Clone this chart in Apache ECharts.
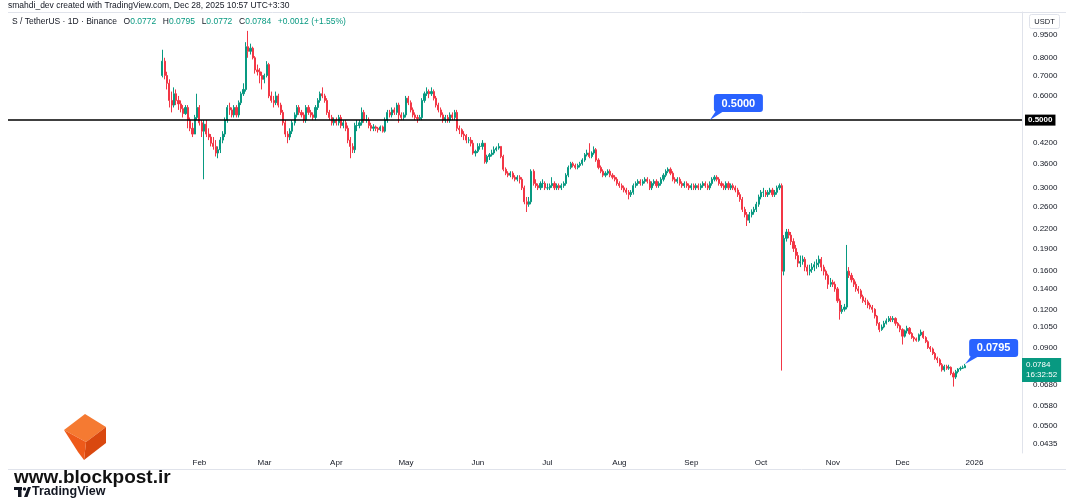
<!DOCTYPE html>
<html>
<head>
<meta charset="utf-8">
<script src="https://cdn.jsdelivr.net/npm/echarts@6/dist/echarts.min.js"></script>
<style>
html,body{margin:0;padding:0;background:#fff;}
#chart{width:1066px;height:500px;}
</style>
</head>
<body>
<div id="chart"></div>
<script>
// ---------------- DATA ----------------
const symbolTitle = 'S / TetherUS · 1D · Binance';
const creditLine = 'smahdi_dev created with TradingView.com, Dec 28, 2025 10:57 UTC+3:30';
const firstDate = '2025-01-16';     // first daily candle
const countdown = '16:32:52';
const hLevel = 0.5;                  // horizontal line level
const hLevelAnchorDate = '2025-09-09';

const opens = [
 // Jan 16-31
 0.70,0.78,0.70,0.66,0.58,0.56,0.61,0.58,0.565,0.545,0.525,0.55,0.50,0.47,0.45,0.51,
 // Feb
 0.55,0.49,0.46,0.485,0.45,0.44,0.42,0.41,0.39,0.40,0.43,0.45,0.50,0.55,0.54,0.52,0.55,0.52,0.57,0.61,0.63,0.87,0.84,0.86,0.80,0.73,0.72,0.70,
 // Mar
 0.68,0.70,0.76,0.60,0.58,0.57,0.60,0.56,0.53,0.49,0.45,0.44,0.46,0.49,0.52,0.55,0.53,0.52,0.50,0.55,0.53,0.52,0.51,0.55,0.58,0.61,0.60,0.58,0.53,0.51,0.49,
 // Apr
 0.50,0.49,0.51,0.48,0.49,0.47,0.43,0.41,0.40,0.48,0.48,0.49,0.53,0.50,0.50,0.48,0.47,0.475,0.47,0.465,0.475,0.46,0.50,0.53,0.52,0.54,0.53,0.56,0.52,0.51,
 // May
 0.52,0.59,0.57,0.54,0.52,0.51,0.505,0.51,0.58,0.61,0.62,0.61,0.62,0.59,0.56,0.54,0.52,0.50,0.51,0.50,0.52,0.51,0.53,0.47,0.465,0.45,0.445,0.43,0.43,0.42,0.39,
 // Jun
 0.395,0.41,0.41,0.42,0.365,0.38,0.385,0.39,0.40,0.405,0.41,0.38,0.345,0.335,0.33,0.335,0.325,0.32,0.325,0.32,0.30,0.27,0.265,0.27,0.34,0.31,0.305,0.30,0.31,0.31,
 // Jul
 0.30,0.30,0.305,0.31,0.30,0.305,0.30,0.305,0.31,0.33,0.35,0.36,0.355,0.35,0.355,0.36,0.37,0.385,0.39,0.38,0.39,0.40,0.37,0.35,0.34,0.33,0.335,0.34,0.33,0.325,0.32,
 // Aug
 0.31,0.305,0.30,0.295,0.29,0.285,0.29,0.305,0.31,0.315,0.31,0.315,0.32,0.315,0.30,0.31,0.315,0.305,0.31,0.32,0.33,0.34,0.345,0.335,0.32,0.315,0.32,0.31,0.305,0.31,0.305,
 // Sep
 0.30,0.305,0.30,0.305,0.30,0.305,0.31,0.305,0.30,0.31,0.32,0.325,0.32,0.31,0.305,0.30,0.31,0.30,0.305,0.30,0.295,0.285,0.275,0.255,0.245,0.235,0.245,0.25,0.255,0.265,
 // Oct
 0.28,0.29,0.29,0.285,0.29,0.295,0.285,0.29,0.30,0.305,0.16,0.205,0.215,0.21,0.20,0.19,0.18,0.17,0.172,0.175,0.165,0.16,0.162,0.165,0.168,0.17,0.175,0.165,0.16,0.155,0.145,
 // Nov
 0.147,0.145,0.14,0.128,0.118,0.12,0.122,0.16,0.155,0.15,0.145,0.14,0.138,0.132,0.128,0.127,0.124,0.122,0.12,0.114,0.108,0.103,0.105,0.108,0.11,0.112,0.111,0.112,0.108,0.106,
 // Dec 1-28
 0.103,0.098,0.102,0.104,0.100,0.097,0.096,0.095,0.099,0.101,0.097,0.094,0.090,0.089,0.086,0.083,0.082,0.079,0.076,0.078,0.077,0.0775,0.074,0.072,0.075,0.0765,0.077,0.0772
];
const closes = [
 0.78,0.70,0.66,0.58,0.56,0.61,0.58,0.565,0.545,0.525,0.55,0.50,0.47,0.45,0.51,0.55,
 0.49,0.46,0.485,0.45,0.44,0.42,0.41,0.39,0.40,0.43,0.45,0.50,0.55,0.54,0.52,0.55,0.52,0.57,0.61,0.63,0.87,0.84,0.86,0.80,0.73,0.72,0.70,0.68,
 0.70,0.76,0.60,0.58,0.57,0.60,0.56,0.53,0.49,0.45,0.44,0.46,0.49,0.52,0.55,0.53,0.52,0.50,0.55,0.53,0.52,0.51,0.55,0.58,0.61,0.60,0.58,0.53,0.51,0.49,0.50,
 0.49,0.51,0.48,0.49,0.47,0.43,0.41,0.40,0.48,0.48,0.49,0.53,0.50,0.50,0.48,0.47,0.475,0.47,0.465,0.475,0.46,0.50,0.53,0.52,0.54,0.53,0.56,0.52,0.51,0.52,
 0.59,0.57,0.54,0.52,0.51,0.505,0.51,0.58,0.61,0.62,0.61,0.62,0.59,0.56,0.54,0.52,0.50,0.51,0.50,0.52,0.51,0.53,0.47,0.465,0.45,0.445,0.43,0.43,0.42,0.39,0.395,
 0.41,0.41,0.42,0.365,0.38,0.385,0.39,0.40,0.405,0.41,0.38,0.345,0.335,0.33,0.335,0.325,0.32,0.325,0.32,0.30,0.27,0.265,0.27,0.34,0.31,0.305,0.30,0.31,0.31,0.30,
 0.30,0.305,0.31,0.30,0.305,0.30,0.305,0.31,0.33,0.35,0.36,0.355,0.35,0.355,0.36,0.37,0.385,0.39,0.38,0.39,0.40,0.37,0.35,0.34,0.33,0.335,0.34,0.33,0.325,0.32,0.31,
 0.305,0.30,0.295,0.29,0.285,0.29,0.305,0.31,0.315,0.31,0.315,0.32,0.315,0.30,0.31,0.315,0.305,0.31,0.32,0.33,0.34,0.345,0.335,0.32,0.315,0.32,0.31,0.305,0.31,0.305,0.30,
 0.305,0.30,0.305,0.30,0.305,0.31,0.305,0.30,0.31,0.32,0.325,0.32,0.31,0.305,0.30,0.31,0.30,0.305,0.30,0.295,0.285,0.275,0.255,0.245,0.235,0.245,0.25,0.255,0.265,0.28,
 0.29,0.29,0.285,0.29,0.295,0.285,0.29,0.30,0.305,0.16,0.205,0.215,0.21,0.20,0.19,0.18,0.17,0.172,0.175,0.165,0.16,0.162,0.165,0.168,0.17,0.175,0.165,0.16,0.155,0.145,0.147,
 0.145,0.14,0.128,0.118,0.12,0.122,0.16,0.155,0.15,0.145,0.14,0.138,0.132,0.128,0.127,0.124,0.122,0.12,0.114,0.108,0.103,0.105,0.108,0.11,0.112,0.111,0.112,0.108,0.106,0.103,
 0.098,0.102,0.104,0.100,0.097,0.096,0.095,0.099,0.101,0.097,0.094,0.090,0.089,0.086,0.083,0.082,0.079,0.076,0.078,0.077,0.0775,0.074,0.072,0.075,0.0765,0.077,0.0772,0.0784
];
const highs = [
 0.85,0.80,0.72,0.68,0.62,0.64,0.63,0.60,0.58,0.56,0.56,0.56,0.51,0.49,0.52,0.61,
 0.56,0.50,0.50,0.50,0.47,0.45,0.44,0.43,0.41,0.44,0.46,0.51,0.56,0.57,0.55,0.56,0.56,0.58,0.62,0.66,0.90,0.98,0.89,0.87,0.81,0.76,0.74,0.72,
 0.71,0.78,0.77,0.62,0.60,0.62,0.61,0.57,0.54,0.50,0.46,0.47,0.50,0.53,0.56,0.56,0.54,0.53,0.56,0.56,0.54,0.53,0.56,0.59,0.62,0.64,0.61,0.59,0.54,0.52,0.51,
 0.51,0.52,0.52,0.50,0.50,0.48,0.44,0.42,0.49,0.50,0.50,0.55,0.54,0.52,0.51,0.49,0.485,0.48,0.475,0.48,0.48,0.51,0.54,0.54,0.55,0.55,0.57,0.57,0.53,0.53,
 0.60,0.60,0.58,0.55,0.53,0.52,0.52,0.59,0.62,0.64,0.63,0.64,0.63,0.60,0.57,0.55,0.53,0.52,0.52,0.53,0.53,0.54,0.54,0.48,0.47,0.46,0.45,0.44,0.44,0.43,0.40,
 0.42,0.42,0.43,0.42,0.385,0.39,0.40,0.41,0.41,0.42,0.41,0.385,0.35,0.34,0.34,0.34,0.33,0.33,0.33,0.325,0.305,0.28,0.28,0.345,0.345,0.32,0.31,0.315,0.32,0.315,
 0.31,0.31,0.325,0.315,0.31,0.31,0.31,0.315,0.335,0.355,0.365,0.365,0.36,0.36,0.365,0.375,0.39,0.40,0.42,0.395,0.41,0.405,0.375,0.355,0.345,0.34,0.345,0.345,0.335,0.33,0.325,
 0.315,0.31,0.305,0.30,0.295,0.295,0.31,0.315,0.32,0.32,0.32,0.325,0.325,0.32,0.315,0.32,0.32,0.315,0.325,0.335,0.345,0.35,0.35,0.34,0.325,0.325,0.325,0.315,0.315,0.315,0.31,
 0.31,0.31,0.31,0.31,0.31,0.315,0.315,0.31,0.315,0.325,0.33,0.33,0.325,0.315,0.31,0.315,0.315,0.31,0.31,0.305,0.30,0.29,0.28,0.26,0.25,0.25,0.255,0.26,0.27,0.285,
 0.295,0.30,0.295,0.295,0.30,0.30,0.295,0.305,0.31,0.31,0.21,0.22,0.22,0.215,0.205,0.195,0.185,0.18,0.18,0.178,0.168,0.168,0.17,0.172,0.175,0.18,0.178,0.168,0.162,0.157,0.152,
 0.15,0.148,0.142,0.13,0.124,0.125,0.195,0.165,0.158,0.152,0.148,0.143,0.14,0.134,0.131,0.129,0.126,0.124,0.121,0.115,0.109,0.107,0.11,0.112,0.114,0.114,0.114,0.113,0.109,0.107,
 0.104,0.103,0.106,0.105,0.101,0.098,0.097,0.100,0.103,0.102,0.098,0.095,0.091,0.090,0.087,0.084,0.083,0.080,0.079,0.079,0.079,0.078,0.075,0.076,0.077,0.078,0.0785,0.0795
];
const lows = [
 0.69,0.68,0.63,0.55,0.53,0.55,0.56,0.54,0.53,0.51,0.52,0.47,0.46,0.44,0.45,0.50,
 0.48,0.44,0.32,0.44,0.43,0.41,0.40,0.38,0.375,0.39,0.42,0.44,0.49,0.52,0.51,0.51,0.51,0.51,0.56,0.60,0.62,0.80,0.82,0.79,0.71,0.70,0.66,0.63,
 0.66,0.69,0.59,0.57,0.55,0.56,0.55,0.52,0.48,0.44,0.42,0.43,0.45,0.48,0.51,0.52,0.51,0.49,0.49,0.52,0.51,0.50,0.50,0.54,0.57,0.59,0.57,0.52,0.50,0.48,0.48,
 0.48,0.48,0.47,0.47,0.46,0.42,0.375,0.39,0.39,0.46,0.47,0.48,0.49,0.49,0.47,0.46,0.46,0.46,0.455,0.46,0.455,0.455,0.49,0.51,0.51,0.52,0.52,0.49,0.50,0.50,
 0.51,0.56,0.53,0.51,0.50,0.49,0.50,0.50,0.57,0.60,0.59,0.60,0.58,0.55,0.53,0.51,0.49,0.49,0.49,0.49,0.50,0.50,0.46,0.45,0.44,0.43,0.42,0.42,0.41,0.385,0.38,
 0.39,0.40,0.40,0.36,0.36,0.37,0.38,0.385,0.395,0.40,0.375,0.34,0.33,0.325,0.325,0.32,0.315,0.315,0.31,0.295,0.265,0.25,0.26,0.265,0.305,0.30,0.295,0.295,0.30,0.295,
 0.295,0.295,0.30,0.295,0.295,0.295,0.295,0.30,0.305,0.325,0.345,0.35,0.345,0.345,0.35,0.355,0.365,0.38,0.375,0.375,0.385,0.365,0.345,0.335,0.325,0.325,0.33,0.325,0.32,0.315,0.305,
 0.30,0.295,0.29,0.285,0.275,0.28,0.285,0.30,0.305,0.305,0.305,0.31,0.31,0.295,0.295,0.305,0.30,0.30,0.305,0.315,0.325,0.335,0.33,0.315,0.31,0.31,0.305,0.30,0.30,0.30,0.295,
 0.295,0.295,0.295,0.295,0.295,0.30,0.30,0.295,0.295,0.305,0.315,0.315,0.305,0.30,0.295,0.295,0.295,0.295,0.295,0.29,0.28,0.27,0.25,0.24,0.225,0.23,0.24,0.245,0.25,0.26,
 0.275,0.28,0.28,0.28,0.285,0.28,0.28,0.285,0.295,0.0756,0.155,0.20,0.205,0.195,0.185,0.175,0.165,0.165,0.168,0.16,0.155,0.155,0.158,0.16,0.163,0.165,0.16,0.155,0.15,0.14,0.142,
 0.142,0.137,0.126,0.111,0.116,0.118,0.12,0.152,0.147,0.142,0.137,0.135,0.13,0.126,0.124,0.121,0.12,0.117,0.112,0.106,0.101,0.102,0.104,0.107,0.109,0.109,0.109,0.106,0.104,0.101,
 0.092,0.097,0.100,0.099,0.096,0.094,0.094,0.094,0.098,0.096,0.093,0.089,0.087,0.085,0.082,0.080,0.078,0.075,0.075,0.076,0.076,0.073,0.067,0.071,0.074,0.0755,0.0765,0.0772
];
const yTicks = [0.95,0.80,0.70,0.60,0.42,0.36,0.30,0.26,0.22,0.19,0.16,0.14,0.12,0.105,0.09,0.068,0.058,0.05,0.0435];
const xTickDates = ['2025-02-01','2025-03-01','2025-04-01','2025-05-01','2025-06-01','2025-07-01','2025-08-01','2025-09-01','2025-10-01','2025-11-01','2025-12-01','2026-01-01'];
const xTickLabels = ['Feb','Mar','Apr','May','Jun','Jul','Aug','Sep','Oct','Nov','Dec','2026'];

// ---------------- BUILD ----------------
const padBefore = 66, padAfter = 24;
const N = closes.length;
const DAY = 86400000;
const t0 = Date.parse(firstDate + 'T00:00:00Z');
const dates = [];
const candles = [];
for (let i = -padBefore; i < N + padAfter; i++) {
  dates.push(new Date(t0 + i * DAY).toISOString().slice(0, 10));
  candles.push(i >= 0 && i < N ? [opens[i], closes[i], lows[i], highs[i]] : '-');
}
const lastIdx = N - 1;
const lastDate = dates[padBefore + lastIdx];
const lastO = opens[lastIdx], lastH = highs[lastIdx], lastL = lows[lastIdx], lastC = closes[lastIdx];
const prevC = closes[lastIdx - 1];
const chg = lastC - prevC;
const pct = chg / prevC * 100;

const UP = '#089981', DOWN = '#F23645', TXT = '#131722', BLUE = '#2962FF';
const FONT = '"Liberation Sans", Arial, sans-serif';

const chart = echarts.init(document.getElementById('chart'), null, {renderer: 'canvas'});
const option = {
  backgroundColor: '#ffffff',
  animation: false,
  textStyle: {fontFamily: FONT},
  grid: {left: 8, right: 44, top: 12, bottom: 47, containLabel: false},
  xAxis: {
    type: 'category', data: dates, boundaryGap: true,
    axisLine: {show: false}, axisTick: {show: false}, splitLine: {show: false},
    axisLabel: {
      interval: (idx, val) => xTickDates.indexOf(val) >= 0,
      formatter: (val) => xTickLabels[xTickDates.indexOf(val)],
      fontSize: 8, color: TXT, margin: 6, fontFamily: FONT
    }
  },
  yAxis: {
    type: 'log', logBase: 10, position: 'right', min: 0.0406, max: 1.13, scale: true,
    axisLine: {show: true, lineStyle: {color: '#E0E3EB', width: 1}},
    axisTick: {show: false}, splitLine: {show: false},
    axisLabel: {
      customValues: yTicks,
      formatter: (v) => Number(v).toFixed(4),
      fontSize: 8, color: TXT, margin: 11, fontFamily: FONT
    }
  },
  series: [{
    type: 'candlestick',
    data: candles,
    barWidth: '70%',
    itemStyle: {color: UP, color0: DOWN, borderColor: UP, borderColor0: DOWN, borderWidth: 1},
    markLine: {
      silent: true, animation: false, symbol: ['none', 'none'],
      data: [
        {yAxis: hLevel, lineStyle: {color: '#000', width: 1.6, type: 'solid'},
         label: {show: true, position: 'end', distance: 3, formatter: hLevel.toFixed(4),
                 backgroundColor: '#000', color: '#fff', fontSize: 8, fontWeight: 'bold',
                 padding: [2, 3, 1, 3], fontFamily: FONT}},
        {yAxis: lastC, lineStyle: {color: 'rgba(0,0,0,0)', width: 0},
         label: {show: true, position: 'end', distance: 0, offset: [0, 7],
                 formatter: lastC.toFixed(4) + '\n' + countdown,
                 backgroundColor: UP, color: '#fff', fontSize: 8, lineHeight: 10,
                 padding: [2, 4, 2, 4], fontFamily: FONT}}
      ]
    }
  }],
  graphic: []
};
chart.setOption(option);

// ---------------- ANNOTATIONS ----------------
function callout(date, value, text, dx, dy) {
  const p = chart.convertToPixel({gridIndex: 0}, [date, value]);
  const w = 49, h = 18;
  const bx = p[0] + dx, by = p[1] + dy;
  return [
    {type: 'polygon', shape: {points: [[p[0], p[1]], [bx + 2, by + h - 1], [bx + 10, by + h - 1]]},
     style: {fill: BLUE}, z: 100},
    {type: 'rect', shape: {x: bx, y: by, width: w, height: h, r: 3}, style: {fill: BLUE}, z: 101},
    {type: 'text', x: bx + w / 2, y: by + h / 2 + 0.5,
     style: {text: text, fill: '#fff', font: 'bold 11px ' + FONT, align: 'center', verticalAlign: 'middle'}, z: 102}
  ];
}

const graphics = [];
// header
graphics.push({type: 'text', left: 8, top: 1,
  style: {text: creditLine, fill: TXT, font: '8.5px ' + FONT}});
graphics.push({type: 'line', shape: {x1: 8, y1: 12.5, x2: 1066, y2: 12.5}, style: {stroke: '#E0E3EB', lineWidth: 1}});
graphics.push({type: 'line', shape: {x1: 8, y1: 469.5, x2: 1066, y2: 469.5}, style: {stroke: '#E0E3EB', lineWidth: 1}});
graphics.push({type: 'text', left: 12, top: 16,
  style: {
    rich: {
      b: {fill: TXT, font: '8.5px ' + FONT},
      g: {fill: UP, font: '8.5px ' + FONT}
    },
    text: '{b|' + symbolTitle + '}  {b|O}{g|' + lastO.toFixed(4) + '}  {b|H}{g|' + lastH.toFixed(4) +
          '}  {b|L}{g|' + lastL.toFixed(4) + '}  {b|C}{g|' + lastC.toFixed(4) + '}  {g|' +
          (chg >= 0 ? '+' : '') + chg.toFixed(4) + ' (' + (pct >= 0 ? '+' : '') + pct.toFixed(2) + '%)}'
  }});
// USDT box
graphics.push({type: 'rect', shape: {x: 1029.5, y: 14.5, width: 30, height: 14, r: 2},
  style: {fill: '#fff', stroke: '#E0E3EB', lineWidth: 1}});
graphics.push({type: 'text', x: 1044.5, y: 22,
  style: {text: 'USDT', fill: TXT, font: '7.5px ' + FONT, align: 'center', verticalAlign: 'middle'}});

// callouts
graphics.push(...callout(hLevelAnchorDate, hLevel, hLevel.toFixed(4), 4, -26));
graphics.push(...callout(lastDate, lastH, lastH.toFixed(4), 4, -25));

// watermark logos
graphics.push({type: 'polygon', shape: {points: [[64, 430], [85, 414], [106, 427], [86, 442]]}, style: {fill: '#F57A32'}});
graphics.push({type: 'polygon', shape: {points: [[86, 442], [106, 427], [106, 443], [84, 460]]}, style: {fill: '#D9480F'}});
graphics.push({type: 'polygon', shape: {points: [[64, 430], [86, 442], [84, 460], [78, 452]]}, style: {fill: '#EE5A1A'}});
graphics.push({type: 'text', left: 14, top: 468,
  style: {text: 'www.blockpost.ir', fill: '#111', font: 'bold 19px ' + FONT}});
graphics.push({type: 'rect', shape: {x: 14, y: 487, width: 8, height: 3}, style: {fill: '#131722'}});
graphics.push({type: 'rect', shape: {x: 18, y: 487, width: 3.5, height: 10}, style: {fill: '#131722'}});
graphics.push({type: 'circle', shape: {cx: 24.5, cy: 489, r: 1.7}, style: {fill: '#131722'}});
graphics.push({type: 'polygon', shape: {points: [[24, 497], [28, 487], [31, 487], [27.5, 497]]}, style: {fill: '#131722'}});
graphics.push({type: 'text', left: 32, top: 485,
  style: {text: 'TradingView', fill: '#131722', font: 'bold 12.5px ' + FONT}});

chart.setOption({graphic: graphics});
</script>
</body>
</html>
